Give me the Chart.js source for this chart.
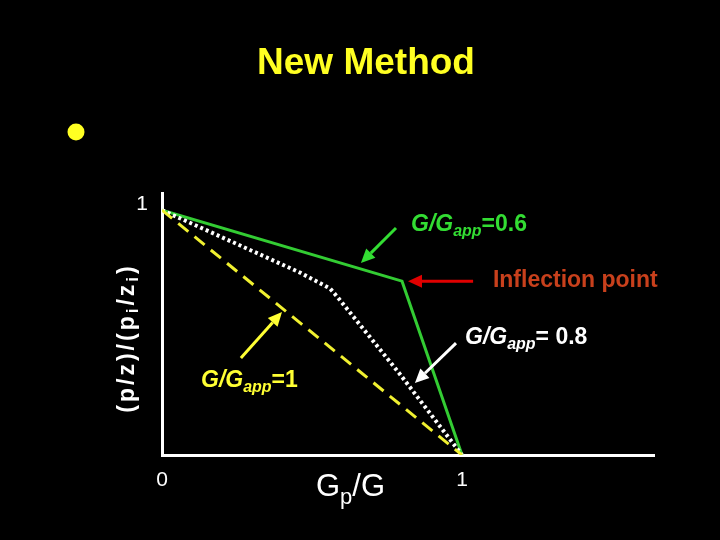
<!DOCTYPE html>
<html>
<head>
<meta charset="UTF-8">
<title>New Method</title>
<script src="https://cdn.jsdelivr.net/npm/chart.js@4.4.1/dist/chart.umd.min.js"></script>
<style>
  html, body { margin: 0; padding: 0; background: #000; }
  canvas { display: block; }
</style>
</head>
<body>
<canvas id="chart" width="720" height="540"></canvas>
<script>
// curves (x = Gp/G, y = (p/z)/(pi/zi))
const idealLine = [[0, 1], [1, 0]];                       // G/Gapp=1
const dottedLine = [[0, 1], [0.46, 0.745], [0.56, 0.68], [0.585, 0.645], [0.79, 0.335], [1, 0]]; // G/Gapp=0.8
const greenLine = [[0, 1], [0.8, 0.71], [1, 0]];          // G/Gapp=0.6
const xTicks = [0, 1];
const yTicks = [1];

// arrows in data units: tail -> head
const arrows = [
  { from: [0.78, 0.927], to: [0.663, 0.784], color: '#33dd33' },
  { from: [1.037, 0.71], to: [0.82, 0.71], color: '#e00000' },
  { from: [0.98, 0.457], to: [0.843, 0.294], color: '#ffffff' },
  { from: [0.263, 0.396], to: [0.40, 0.584], color: '#ffff33' }
];

// labels in data units (left edge, baseline); runs = [text, style, size, dy]
const notes = [
  { at: [0.83, 0.914], color: '#33dd33', runs: [['G/G', 'italic bold', 23, 0], ['app', 'italic bold', 16, 5], ['=0.6', 'bold', 23, 0]] },
  { at: [1.103, 0.686], color: '#c8401c', runs: [['Inflection point', 'bold', 23, 0]] },
  { at: [1.01, 0.453], color: '#ffffff', runs: [['G/G', 'italic bold', 23, 0], ['app', 'italic bold', 16, 5], ['= 0.8', 'bold', 23, 0]] },
  { at: [0.13, 0.278], color: '#ffff33', runs: [['G/G', 'italic bold', 23, 0], ['app', 'italic bold', 16, 5], ['=1', 'bold', 23, 0]] }
];

const FONT = 'Arial, "Liberation Sans", sans-serif';

function toXY(arr) { return arr.map(p => ({ x: p[0], y: p[1] })); }

function runsWidth(ctx, runs) {
  let w = 0;
  for (const r of runs) {
    ctx.font = r[1] + ' ' + r[2] + 'px ' + FONT;
    w += ctx.measureText(r[0]).width;
  }
  return w;
}

function drawRuns(ctx, x, y, runs, color) {
  ctx.fillStyle = color;
  ctx.textBaseline = 'alphabetic';
  ctx.textAlign = 'left';
  for (const r of runs) {
    ctx.font = r[1] + ' ' + r[2] + 'px ' + FONT;
    ctx.fillText(r[0], x, y + r[3]);
    x += ctx.measureText(r[0]).width;
  }
}

function drawArrow(ctx, x1, y1, x2, y2, color) {
  const a = Math.atan2(y2 - y1, x2 - x1);
  const len = 14, half = 6.5;
  const bx = x2 - len * Math.cos(a), by = y2 - len * Math.sin(a);
  ctx.strokeStyle = color;
  ctx.fillStyle = color;
  ctx.lineWidth = 3;
  ctx.beginPath();
  ctx.moveTo(x1, y1);
  ctx.lineTo(bx, by);
  ctx.stroke();
  ctx.beginPath();
  ctx.moveTo(x2, y2);
  ctx.lineTo(bx + half * Math.sin(a), by - half * Math.cos(a));
  ctx.lineTo(bx - half * Math.sin(a), by + half * Math.cos(a));
  ctx.closePath();
  ctx.fill();
}

const decor = {
  id: 'decor',
  beforeDraw(chart) {
    const ctx = chart.ctx;
    ctx.save();
    ctx.fillStyle = '#000';
    ctx.fillRect(0, 0, chart.width, chart.height);
    ctx.restore();
  },
  afterDraw(chart) {
    const ctx = chart.ctx;
    const xs = chart.scales.x, ys = chart.scales.y;
    ctx.save();

    // title
    ctx.fillStyle = '#ffff22';
    ctx.font = 'bold 37px ' + FONT;
    ctx.textAlign = 'center';
    ctx.textBaseline = 'alphabetic';
    ctx.fillText('New Method', 366, 74);

    // bullet
    ctx.beginPath();
    ctx.arc(76, 132, 8.5, 0, Math.PI * 2);
    ctx.fill();

    // x axis title
    drawRuns(ctx, 316, 496, [['G', '', 31, 0], ['p', '', 22, 8], ['/G', '', 31, 0]], '#ffffff');

    // y axis title
    ctx.save();
    ctx.translate(134, 338);
    ctx.rotate(-Math.PI / 2);
    ctx.letterSpacing = '3px';
    const yRuns = [['(p/z)/(p', 'bold', 23, 0], ['i', 'bold', 17, 4], ['/z', 'bold', 23, 0], ['i', 'bold', 17, 4], [')', 'bold', 23, 0]];
    const w = runsWidth(ctx, yRuns);
    drawRuns(ctx, -w / 2, 0, yRuns, '#ffffff');
    ctx.restore();

    // arrows and notes
    for (const a of arrows) {
      drawArrow(ctx, xs.getPixelForValue(a.from[0]), ys.getPixelForValue(a.from[1]),
        xs.getPixelForValue(a.to[0]), ys.getPixelForValue(a.to[1]), a.color);
    }
    for (const n of notes) {
      drawRuns(ctx, xs.getPixelForValue(n.at[0]), ys.getPixelForValue(n.at[1]), n.runs, n.color);
    }
    ctx.restore();
  }
};

new Chart(document.getElementById('chart'), {
  type: 'line',
  data: {
    datasets: [
      { data: toXY(idealLine), borderColor: '#f0f030', borderWidth: 3, borderDash: [13, 8], pointRadius: 0 },
      { data: toXY(dottedLine), borderColor: '#ffffff', borderWidth: 4, borderDash: [3, 3], pointRadius: 0 },
      { data: toXY(greenLine), borderColor: '#33cc33', borderWidth: 3, pointRadius: 0 }
    ]
  },
  options: {
    responsive: false,
    animation: false,
    devicePixelRatio: 1,
    layout: { padding: { top: 193, right: 66, left: 0, bottom: 0 } },
    plugins: { legend: { display: false }, tooltip: { enabled: false }, title: { display: false } },
    scales: {
      x: {
        type: 'linear', min: 0, max: 1.64,
        afterFit(s) { s.height = 85; },
        afterBuildTicks(s) { s.ticks = xTicks.map(v => ({ value: v })); },
        grid: { display: false, drawTicks: false },
        border: { display: true, color: '#ffffff', width: 3 },
        ticks: { color: '#ffffff', font: { size: 21, family: FONT }, padding: 13 }
      },
      y: {
        type: 'linear', min: 0, max: 1.07,
        afterFit(s) { s.width = 162; },
        afterBuildTicks(s) { s.ticks = yTicks.map(v => ({ value: v })); },
        grid: { display: false, drawTicks: false },
        border: { display: true, color: '#ffffff', width: 3 },
        ticks: { color: '#ffffff', font: { size: 21, family: FONT }, padding: 14, labelOffset: -6 }
      }
    }
  },
  plugins: [decor]
});
</script>
</body>
</html>
